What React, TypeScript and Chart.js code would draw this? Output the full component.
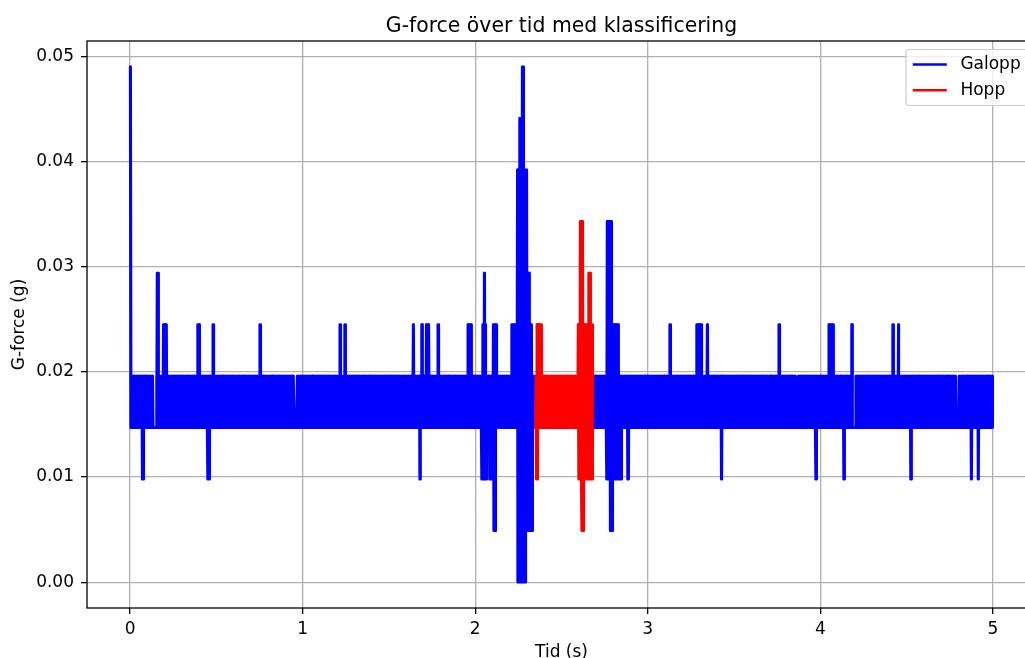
import React, { useEffect, useRef } from "react";
import { Chart, registerables } from "chart.js";

Chart.register(...registerables);

// ---------- text ----------
const chartTitle = "G-force över tid med klassificering";
const xAxisLabel = "Tid (s)";
const yAxisLabel = "G-force (g)";
const seriesNames = ["Galopp", "Hopp"];
const seriesColors = ["#0000ff", "#ff0000"];

// ---------- axes ----------
const xTicks = [0, 1, 2, 3, 4, 5];
const yTicks = [0, 0.01, 0.02, 0.03, 0.04, 0.05];
const xRange = [-0.25, 5.25];
const yRange = [-0.00245, 0.05145];

// ---------- signal ----------
const sampleStep = 0.002; // s between samples
const timeEnd = 5.0; // s
const bandLow = 0.0147; // g, lower level of the constant oscillation
const bandHigh = 0.0196; // g, upper level of the constant oscillation
const spikeHalfWidth = 0.004; // s, half width of a single-sample spike

// upward excursions: start time, end time, level (g)
const peakStart = [0, 0.16, 0.189, 0.396, 0.483, 0.753, 1.217, 1.246, 1.641, 1.69, 1.713, 1.786, 1.954, 2.043, 2.055, 2.101, 2.211, 2.242, 2.254, 2.271, 2.3, 2.356, 2.596, 2.607, 2.655, 2.762, 2.762, 3.129, 3.283, 3.345, 3.762, 4.046, 4.181, 4.422, 4.451];
const peakEnd = [0, 0.16, 0.213, 0.396, 0.483, 0.753, 1.217, 1.246, 1.641, 1.69, 1.732, 1.786, 1.976, 2.063, 2.055, 2.125, 2.329, 2.3, 2.277, 2.281, 2.312, 2.385, 2.683, 2.626, 2.669, 2.791, 2.829, 3.129, 3.312, 3.345, 3.762, 4.079, 4.181, 4.422, 4.455];
const peakLevel = [0.049, 0.0294, 0.0245, 0.0245, 0.0245, 0.0245, 0.0245, 0.0245, 0.0245, 0.0245, 0.0245, 0.0245, 0.0245, 0.0245, 0.0294, 0.0245, 0.0245, 0.0392, 0.0441, 0.049, 0.0294, 0.0245, 0.0245, 0.0343, 0.0294, 0.0343, 0.0245, 0.0245, 0.0245, 0.0245, 0.0245, 0.0245, 0.0245, 0.0245, 0.0245];

// downward excursions: start time, end time, level (g)
const dipStart = [0.074, 0.454, 1.68, 2.038, 2.082, 2.106, 2.246, 2.293, 2.353, 2.596, 2.617, 2.646, 2.762, 2.781, 2.88, 3.428, 3.975, 4.137, 4.523, 4.877, 4.915];
const dipEnd = [0.074, 0.454, 1.68, 2.067, 2.105, 2.121, 2.293, 2.333, 2.364, 2.617, 2.63, 2.678, 2.849, 2.797, 2.891, 3.428, 3.975, 4.137, 4.523, 4.877, 4.915];
const dipLevel = [0.0098, 0.0098, 0.0098, 0.0098, 0.0098, 0.0049, 0.0, 0.0049, 0.0098, 0.0098, 0.0049, 0.0098, 0.0098, 0.0049, 0.0098, 0.0098, 0.0098, 0.0098, 0.0098, 0.0098, 0.0098];

// short pauses in the oscillation (thin white gaps in the band)
const holdTimes = [0.135, 0.95, 3.857, 4.187, 4.415, 4.786];
const holdLength = 0.014;

// classification window "Hopp"
const hoppStart = 2.335;
const hoppEnd = 2.694;

const FONT = "'DejaVu Sans', 'Liberation Sans', sans-serif";

type Pt = { x: number; y: number | null };

function inEvent(t: number, s: number, e: number) {
  if (s === e) return t >= s - spikeHalfWidth && t <= e + spikeHalfWidth;
  return t >= s - 1e-9 && t <= e + 1e-9;
}

function buildSignal(): Pt[] {
  const n = Math.round(timeEnd / sampleStep) + 1;
  const pts: Pt[] = [];
  for (let i = 0; i < n; i++) {
    const t = +(i * sampleStep).toFixed(4);
    let v = i % 2 === 0 ? bandHigh : bandLow;
    for (const h of holdTimes) if (t >= h && t <= h + holdLength) v = bandLow;
    if (i % 2 === 0) {
      for (let k = 0; k < peakLevel.length; k++) {
        if (inEvent(t, peakStart[k], peakEnd[k])) v = Math.max(v, peakLevel[k]);
      }
    } else {
      for (let k = 0; k < dipLevel.length; k++) {
        if (inEvent(t, dipStart[k], dipEnd[k])) v = Math.min(v, dipLevel[k]);
      }
    }
    pts.push({ x: t, y: v });
  }
  return pts;
}

const decorPlugin = {
  id: "decor",
  afterDatasetsDraw(chart: any) {
    const { ctx, chartArea: a } = chart;
    ctx.save();
    ctx.strokeStyle = "#000";
    ctx.lineWidth = 1.3;
    ctx.strokeRect(a.left, a.top, a.right - a.left, a.bottom - a.top);
    ctx.restore();
  },
  afterDraw(chart: any) {
    const { ctx, chartArea: a } = chart;
    const cx = (a.left + a.right) / 2;
    ctx.save();
    ctx.fillStyle = "#000";
    // title
    ctx.font = `20.4px ${FONT}`;
    ctx.textAlign = "center";
    ctx.textBaseline = "alphabetic";
    ctx.fillText(chartTitle, cx, a.top - 9.5);
    // x label
    ctx.font = `17px ${FONT}`;
    ctx.fillText(xAxisLabel, cx, 657);
    // y label
    ctx.save();
    ctx.translate(20, (a.top + a.bottom) / 2);
    ctx.rotate(-Math.PI / 2);
    ctx.textBaseline = "middle";
    ctx.fillText(yAxisLabel, 0, 0);
    ctx.restore();

    // legend
    const em = 17;
    ctx.font = `${em}px ${FONT}`;
    const textW = Math.max(...seriesNames.map((s) => ctx.measureText(s).width));
    const boxW = 0.4 * em * 2 + 2 * em + 0.8 * em + textW;
    const boxRight = a.right - 0.5 * em;
    const boxLeft = boxRight - boxW;
    const boxTop = a.top + 0.5 * em;
    const boxH = 56;
    const r = 3.4;
    ctx.beginPath();
    ctx.moveTo(boxLeft + r, boxTop);
    ctx.lineTo(boxRight - r, boxTop);
    ctx.arcTo(boxRight, boxTop, boxRight, boxTop + r, r);
    ctx.lineTo(boxRight, boxTop + boxH - r);
    ctx.arcTo(boxRight, boxTop + boxH, boxRight - r, boxTop + boxH, r);
    ctx.lineTo(boxLeft + r, boxTop + boxH);
    ctx.arcTo(boxLeft, boxTop + boxH, boxLeft, boxTop + boxH - r, r);
    ctx.lineTo(boxLeft, boxTop + r);
    ctx.arcTo(boxLeft, boxTop, boxLeft + r, boxTop, r);
    ctx.closePath();
    ctx.fillStyle = "rgba(255,255,255,0.8)";
    ctx.fill();
    ctx.strokeStyle = "#cccccc";
    ctx.lineWidth = 1.2;
    ctx.stroke();
    ctx.textAlign = "left";
    ctx.textBaseline = "alphabetic";
    seriesNames.forEach((name, i) => {
      const yc = boxTop + 15 + i * 25.7;
      const lx = boxLeft + 0.4 * em;
      ctx.strokeStyle = seriesColors[i];
      ctx.lineWidth = 2.5;
      ctx.beginPath();
      ctx.moveTo(lx, yc);
      ctx.lineTo(lx + 2 * em, yc);
      ctx.stroke();
      ctx.fillStyle = "#000";
      ctx.fillText(name, lx + 2.8 * em, yc + 4.6);
    });
    ctx.restore();
  },
};

export default function App() {
  const canvasRef = useRef<HTMLCanvasElement | null>(null);

  useEffect(() => {
    const canvas = canvasRef.current;
    if (!canvas) return;
    const signal = buildSignal();
    const iS = Math.ceil(hoppStart / sampleStep - 1e-9);
    const iE = Math.floor(hoppEnd / sampleStep + 1e-9);
    const galopp = signal.map((p, i) => ({ x: p.x, y: i > iS && i < iE ? null : p.y }));
    const hopp = signal.map((p, i) => ({ x: p.x, y: i >= iS && i <= iE ? p.y : null }));

    const lineStyle = {
      borderWidth: 2.6,
      pointRadius: 0,
      tension: 0,
      spanGaps: false,
      borderJoinStyle: "round",
      borderCapStyle: "round",
    };
    const tickFont = { family: FONT, size: 17 };
    const chart = new Chart(canvas, {
      type: "line",
      data: {
        datasets: [
          {
            label: seriesNames[0],
            data: galopp as any,
            borderColor: seriesColors[0],
            backgroundColor: seriesColors[0],
            ...lineStyle,
          },
          {
            label: seriesNames[1],
            data: hopp as any,
            borderColor: seriesColors[1],
            backgroundColor: seriesColors[1],
            ...lineStyle,
          },
        ],
      },
      options: {
        animation: false,
        responsive: false,
        devicePixelRatio: 1,
        events: [],
        parsing: false,
        normalized: true,
        layout: { padding: { left: 0, top: 41, right: 24, bottom: 0 } },
        plugins: {
          legend: { display: false },
          title: { display: false },
          tooltip: { enabled: false },
        },
        scales: {
          x: {
            type: "linear",
            min: xRange[0],
            max: xRange[1],
            afterBuildTicks: (s: any) => {
              s.ticks = xTicks.map((v) => ({ value: v }));
            },
            afterFit: (s: any) => {
              s.height = 50;
            },
            ticks: {
              callback: (v: any) => String(v),
              font: tickFont,
              color: "#000",
              padding: 5,
              maxRotation: 0,
              autoSkip: false,
            },
            grid: {
              color: "#b0b0b0",
              lineWidth: 1.3,
              tickColor: "#000",
              tickWidth: 1.3,
              tickLength: 6,
            },
            border: { display: false },
          },
          y: {
            type: "linear",
            min: yRange[0],
            max: yRange[1],
            afterBuildTicks: (s: any) => {
              s.ticks = yTicks.map((v) => ({ value: v }));
            },
            afterFit: (s: any) => {
              s.width = 87;
            },
            ticks: {
              callback: (v: any) => Number(v).toFixed(2),
              font: tickFont,
              color: "#000",
              padding: 7,
              autoSkip: false,
            },
            grid: {
              color: "#b0b0b0",
              lineWidth: 1.3,
              tickColor: "#000",
              tickWidth: 1.3,
              tickLength: 6,
            },
            border: { display: false },
          },
        },
      },
      plugins: [decorPlugin],
    } as any);
    return () => chart.destroy();
  }, []);

  return (
    <div
      style={{
        position: "fixed",
        left: 0,
        top: 0,
        width: 1025,
        height: 658,
        overflow: "hidden",
        background: "#fff",
      }}
    >
      <canvas ref={canvasRef} width={1060} height={658} style={{ display: "block", width: 1060, height: 658 }} />
    </div>
  );
}
